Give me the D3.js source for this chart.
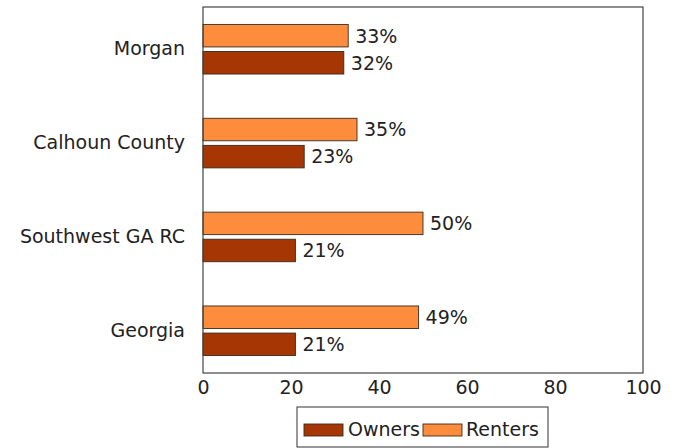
<!DOCTYPE html>
<html><head><meta charset="utf-8">
<script src="https://cdn.jsdelivr.net/npm/d3@7"></script>
<style>body{margin:0;background:#fff}svg{display:block}text{font-family:"DejaVu Sans",sans-serif;fill:#222}</style>
</head><body><svg id="c" width="679" height="448"></svg>
<script>
const categories = ["Morgan", "Calhoun County", "Southwest GA RC", "Georgia"];
const owners = [32, 23, 21, 21];
const renters = [33, 35, 50, 49];
const xTicks = [0, 20, 40, 60, 80, 100];
const seriesNames = ["Owners", "Renters"];
const colors = {Owners: "#a63603", Renters: "#fd8d3c"};

const svg = d3.select("#c");
const L = 203, R = 643, T = 7, B = 373;
const fs = 19;
const x = d3.scaleLinear().domain([0, 100]).range([L, R]);
const y = d3.scaleLinear().domain([-0.45, categories.length - 1 + 0.45]).range([T, B]);
const barH = 22.5, gap = 2.3;

const g = svg.append("g");
categories.forEach((c, i) => {
  const cy = y(i);
  g.append("rect").attr("x", x(0)).attr("y", cy - gap - barH).attr("width", x(renters[i]) - x(0)).attr("height", barH)
    .attr("fill", colors.Renters).attr("stroke", "#3a2a20").attr("stroke-width", 0.9);
  g.append("rect").attr("x", x(0)).attr("y", cy + gap).attr("width", x(owners[i]) - x(0)).attr("height", barH)
    .attr("fill", colors.Owners).attr("stroke", "#3a2a20").attr("stroke-width", 0.9);
  g.append("text").attr("x", x(renters[i]) + 7).attr("y", cy - gap - barH / 2).attr("dy", "0.36em")
    .attr("font-size", fs).text(renters[i] + "%");
  g.append("text").attr("x", x(owners[i]) + 7).attr("y", cy + gap + barH / 2).attr("dy", "0.36em")
    .attr("font-size", fs).text(owners[i] + "%");
  g.append("text").attr("x", L - 18).attr("y", cy - 1).attr("dy", "0.36em").attr("text-anchor", "end")
    .attr("font-size", fs).text(c);
});

svg.append("rect").attr("x", L).attr("y", T).attr("width", R - L).attr("height", B - T)
  .attr("fill", "none").attr("stroke", "#444").attr("stroke-width", 1.2);

const xa = svg.append("g").attr("transform", `translate(0,${B})`)
  .call(d3.axisBottom(x).tickValues(xTicks).tickSize(0).tickPadding(8));
xa.select(".domain").remove();
xa.selectAll("text").attr("font-size", fs).attr("font-family", "DejaVu Sans").attr("fill", "#222");

const lg = svg.append("g");
lg.append("rect").attr("x", 297).attr("y", 407).attr("width", 251).attr("height", 40)
  .attr("fill", "#fff").attr("stroke", "#333").attr("stroke-width", 1);
const items = [{n: "Owners", sx: 304, tx: 348}, {n: "Renters", sx: 423, tx: 466}];
items.forEach(it => {
  lg.append("rect").attr("x", it.sx).attr("y", 424).attr("width", 39).attr("height", 12)
    .attr("fill", colors[it.n]).attr("stroke", "#3a2a20").attr("stroke-width", 0.9);
  lg.append("text").attr("x", it.tx).attr("y", 429).attr("dy", "0.36em").attr("font-size", fs).text(it.n);
});
</script></body></html>
